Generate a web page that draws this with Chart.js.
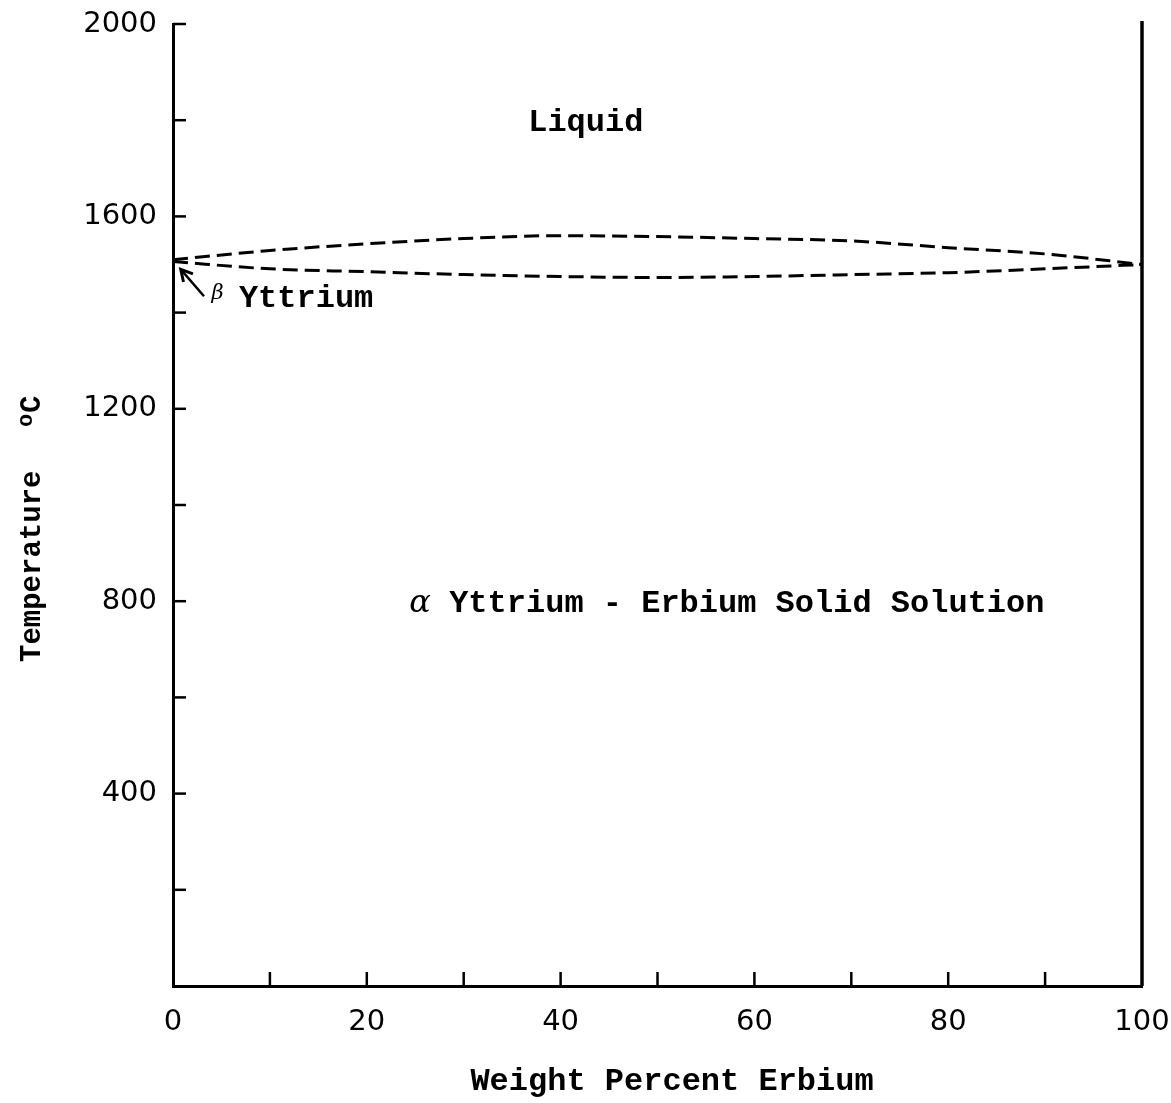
<!DOCTYPE html>
<html>
<head>
<meta charset="utf-8">
<script src="https://cdn.jsdelivr.net/npm/chart.js@4.4.0/dist/chart.umd.min.js"></script>
<style>
  html, body { margin: 0; padding: 0; background: #fff; }
  #wrap { width: 1171px; height: 1103px; }
</style>
</head>
<body>
<div id="wrap"><canvas id="chart" width="1171" height="1103"></canvas></div>
<script>
// weight percent erbium
const erbium = [0, 10, 20, 30, 40, 50, 60, 70, 80, 90, 100];
// upper dashed curve (liquidus), deg C
const liquidus = [1510, 1529, 1543, 1554, 1560, 1558, 1554, 1549, 1535, 1522, 1500];
// lower dashed curve (solidus), deg C
const solidus = [1506, 1491, 1485, 1479, 1475, 1473, 1475, 1479, 1483, 1491, 1500];
// right edge, pure erbium
const edgeX = [100, 100];
const edgeY = [0, 2006];

const yLabelled = [400, 800, 1200, 1600, 2000];
const xLabelled = [0, 20, 40, 60, 80, 100];

// annotation texts, positioned in data units
const notes = [
  { text: "Liquid", x: 42.6, y: 1795, align: "center" },
  { text: "Yttrium - Erbium Solid Solution", x: 28.5, y: 795, align: "left" },
  { text: "Yttrium", x: 6.8, y: 1428, align: "left" },
];
const greek = [
  { text: "α", x: 25.5, y: 795, size: 32 },
  { text: "β", x: 4.6, y: 1440, size: 21 },
];
const arrowFrom = { x: 3.2, y: 1434 };
const arrowTo = { x: 0.8, y: 1490 };

const mono = "'Liberation Mono', 'DejaVu Sans Mono', monospace";

function toXY(xs, ys) {
  return xs.map((x, i) => ({ x: x, y: ys[i] }));
}

// ticks drawn inside the plot
const innerTicks = {
  id: "innerTicks",
  afterDraw(chart) {
    const ctx = chart.ctx;
    const xs = chart.scales.x, ys = chart.scales.y;
    ctx.save();
    ctx.strokeStyle = "#000";
    ctx.lineWidth = 2.5;
    ys.ticks.forEach((t) => {
      if (t.value === 0) return;
      const py = ys.getPixelForValue(t.value);
      ctx.beginPath();
      ctx.moveTo(xs.left, py);
      ctx.lineTo(xs.left + 13, py);
      ctx.stroke();
    });
    xs.ticks.forEach((t) => {
      if (t.value === 0 || t.value === 100) return;
      const px = xs.getPixelForValue(t.value);
      ctx.beginPath();
      ctx.moveTo(px, ys.bottom);
      ctx.lineTo(px, ys.bottom - 14);
      ctx.stroke();
    });
    ctx.restore();
  },
};

// axis titles, region labels and the beta arrow
const labels = {
  id: "labels",
  afterDraw(chart) {
    const ctx = chart.ctx;
    const xs = chart.scales.x, ys = chart.scales.y;
    ctx.save();
    ctx.fillStyle = "#000";

    // x title
    ctx.font = "bold 32px " + mono;
    ctx.textAlign = "center";
    ctx.textBaseline = "middle";
    ctx.fillText("Weight Percent Erbium", xs.getPixelForValue(51.5), ys.bottom + 96);

    // y title with raised degree o
    ctx.save();
    ctx.translate(40, 662);
    ctx.rotate(-Math.PI / 2);
    ctx.textAlign = "left";
    ctx.textBaseline = "alphabetic";
    ctx.font = "bold 29px " + mono;
    ctx.fillText("Temperature", 0, 0);
    ctx.font = "bold 22px " + mono;
    ctx.fillText("o", 235, -8);
    ctx.font = "bold 29px " + mono;
    ctx.fillText("C", 249, 0);
    ctx.restore();

    ctx.textBaseline = "middle";
    ctx.font = "bold 32px " + mono;
    notes.forEach((n) => {
      ctx.textAlign = n.align;
      ctx.fillText(n.text, xs.getPixelForValue(n.x), ys.getPixelForValue(n.y));
    });
    greek.forEach((g) => {
      ctx.font = "italic " + g.size + "px 'DejaVu Serif', serif";
      ctx.textAlign = "center";
      ctx.fillText(g.text, xs.getPixelForValue(g.x), ys.getPixelForValue(g.y));
    });

    const x1 = xs.getPixelForValue(arrowFrom.x), y1 = ys.getPixelForValue(arrowFrom.y);
    const x2 = xs.getPixelForValue(arrowTo.x), y2 = ys.getPixelForValue(arrowTo.y);
    ctx.strokeStyle = "#000";
    ctx.lineWidth = 2.5;
    ctx.beginPath();
    ctx.moveTo(x1, y1);
    ctx.lineTo(x2, y2);
    ctx.stroke();
    const a = Math.atan2(y2 - y1, x2 - x1);
    ctx.lineWidth = 3;
    ctx.beginPath();
    ctx.moveTo(x2 - 13 * Math.cos(a - 0.5), y2 - 13 * Math.sin(a - 0.5));
    ctx.lineTo(x2, y2);
    ctx.lineTo(x2 - 13 * Math.cos(a + 0.5), y2 - 13 * Math.sin(a + 0.5));
    ctx.stroke();
    ctx.restore();
  },
};

const dashed = {
  borderColor: "#000",
  borderWidth: 3,
  borderDash: [15, 7],
  pointRadius: 0,
  fill: false,
  cubicInterpolationMode: "monotone",
};

new Chart(document.getElementById("chart"), {
  type: "line",
  data: {
    datasets: [
      Object.assign({ label: "Liquidus", data: toXY(erbium, liquidus) }, dashed),
      Object.assign({ label: "Solidus", data: toXY(erbium, solidus) }, dashed),
      {
        label: "Erbium",
        data: toXY(edgeX, edgeY),
        borderColor: "#000",
        borderWidth: 3.5,
        pointRadius: 0,
        fill: false,
        clip: false,
      },
    ],
  },
  options: {
    responsive: false,
    animation: false,
    layout: { padding: { top: 24, right: 29, left: 0, bottom: 0 } },
    plugins: { legend: { display: false }, tooltip: { enabled: false } },
    scales: {
      x: {
        type: "linear",
        min: 0,
        max: 100,
        afterFit: (s) => {
          s.height = 117;
          s.paddingLeft = 0;
          s.paddingRight = 0;
        },
        grid: { display: true, drawOnChartArea: false, drawTicks: false },
        border: { display: true, color: "#000", width: 3 },
        ticks: {
          stepSize: 10,
          padding: 19,
          color: "#000",
          maxRotation: 0,
          autoSkip: false,
          font: { family: "'DejaVu Sans', sans-serif", size: 29 },
          callback: (v) => (xLabelled.includes(v) ? String(v) : ""),
        },
      },
      y: {
        type: "linear",
        min: 0,
        max: 2000,
        afterFit: (s) => {
          s.width = 173;
          s.paddingTop = 0;
          s.paddingBottom = 0;
        },
        grid: { display: true, drawOnChartArea: false, drawTicks: false },
        border: { display: true, color: "#000", width: 3 },
        ticks: {
          stepSize: 200,
          padding: 16,
          color: "#000",
          autoSkip: false,
          font: { family: "'DejaVu Sans', sans-serif", size: 29 },
          callback: (v) => (yLabelled.includes(v) ? String(v) : ""),
        },
      },
    },
  },
  plugins: [innerTicks, labels],
});
</script>
</body>
</html>
